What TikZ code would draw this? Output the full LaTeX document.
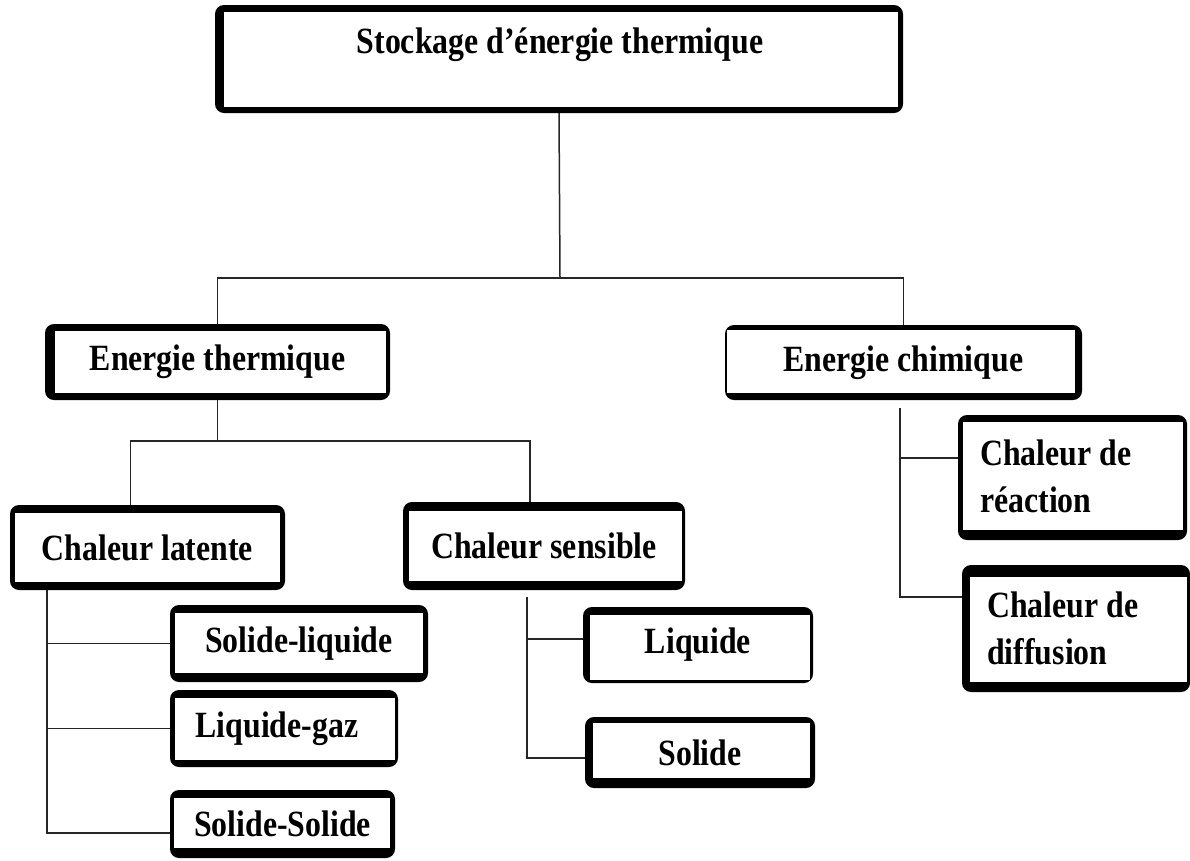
\documentclass[tikz,border=0pt]{standalone}
\usepackage{fontspec}
\newfontfamily\boxfont[FakeStretch=0.86]{Liberation Serif}
\usetikzlibrary{calc}
\tikzset{
  txt/.style={font=\boxfont\bfseries\fontsize{37}{47}\selectfont},
  tbox/.style n args={4}{fill=black, rounded corners=9pt, inner sep=0pt, outer sep=0pt, txt,
    path picture={\fill[white,sharp corners]
      ([xshift=#1pt,yshift=#4pt]path picture bounding box.south west) rectangle
      ([xshift=-#3pt,yshift=-#2pt]path picture bounding box.north east);}},
  lbl/.style={txt, inner sep=0pt, align=left},
  conn/.style={draw=black!85, line width=1.5pt},
}
\begin{document}
\begin{tikzpicture}[x=1pt,y=-1pt]
\fill[white] (0,0) rectangle (1190,860);
\useasboundingbox (0,0) rectangle (1190,860);

% boxes
\node[tbox={9}{7}{5}{6}, minimum width=688pt, minimum height=108pt] (top) at (559,59) {};
\node[lbl, anchor=base] (topt) at (560,53) {Stockage d’énergie thermique};

\node[tbox={10}{7}{4}{7}, minimum width=345pt, minimum height=76pt] (et) at (217.5,362) {Energie thermique};
\node[tbox={2}{5}{7}{7}, minimum width=357pt, minimum height=75pt] (ec) at (903.5,362.5) {Energie chimique};

\node[tbox={5}{8}{5}{8}, minimum width=275pt, minimum height=85pt] (cl) at (147.5,547.5) {Chaleur latente};
\node[tbox={6}{9}{3}{9}, minimum width=282pt, minimum height=88pt] (cs) at (544,546) {Chaleur sensible};

\node[tbox={5}{8}{5}{9}, minimum width=258pt, minimum height=77pt] (sl) at (299,643.5) {Solide-liquide};
\node[tbox={5}{8}{3}{7}, minimum width=228pt, minimum height=77pt] (lg) at (284,728.5) {\hspace*{-14pt}Liquide-gaz};
\node[tbox={4}{8}{5}{10}, minimum width=225pt, minimum height=68pt] (ss) at (282.5,824) {Solide-Solide};

\node[tbox={7}{8}{3}{3}, minimum width=230pt, minimum height=76pt] (lq) at (698,645) {Liquide};
\node[tbox={8}{6}{5}{10}, minimum width=230pt, minimum height=71pt] (so) at (700,752.5) {Solide};

\node[tbox={5}{7}{4}{10}, minimum width=229pt, minimum height=125pt] (cr) at (1072.5,477.5) {};
\node[lbl, anchor=west] (crt) at (980,476) {Chaleur de\\réaction};
\node[tbox={8}{12}{3}{10}, minimum width=228pt, minimum height=127pt] (cd) at (1076,628.5) {};
\node[lbl, anchor=west] (cdt) at (987,628) {Chaleur de\\diffusion};

% connectors
\coordinate (hub1) at (560,278);
\draw[conn] (top.south) -- (hub1);
\draw[conn] (et.north) |- (hub1) -| (ec.north);

\coordinate (hub2) at (222,441);
\draw[conn] (et.south) -- (et.south |- hub2);
\draw[conn] ([xshift=-17pt]cl.north) |- (hub2) -| ([xshift=-14pt]cs.north);

\coordinate (clv) at ([xshift=37pt]cl.south west);
\draw[conn] (clv) |- (sl.west);
\draw[conn] (clv) |- (lg.west);
\draw[conn] (clv) |- ([yshift=-9pt]ss.west);

\coordinate (csv) at ([xshift=-17pt,yshift=-7pt]cs.south);
\draw[conn] (csv) |- ([yshift=6pt]lq.west);
\draw[conn] (csv) |- ([yshift=-5.5pt]so.west);

\coordinate (ecv) at ([xshift=-3.5pt,yshift=-8pt]ec.south);
\draw[conn] (ecv) |- ([yshift=19.5pt]cr.west);
\draw[conn] (ecv) |- ([yshift=31.5pt]cd.west);
\end{tikzpicture}
\end{document}
